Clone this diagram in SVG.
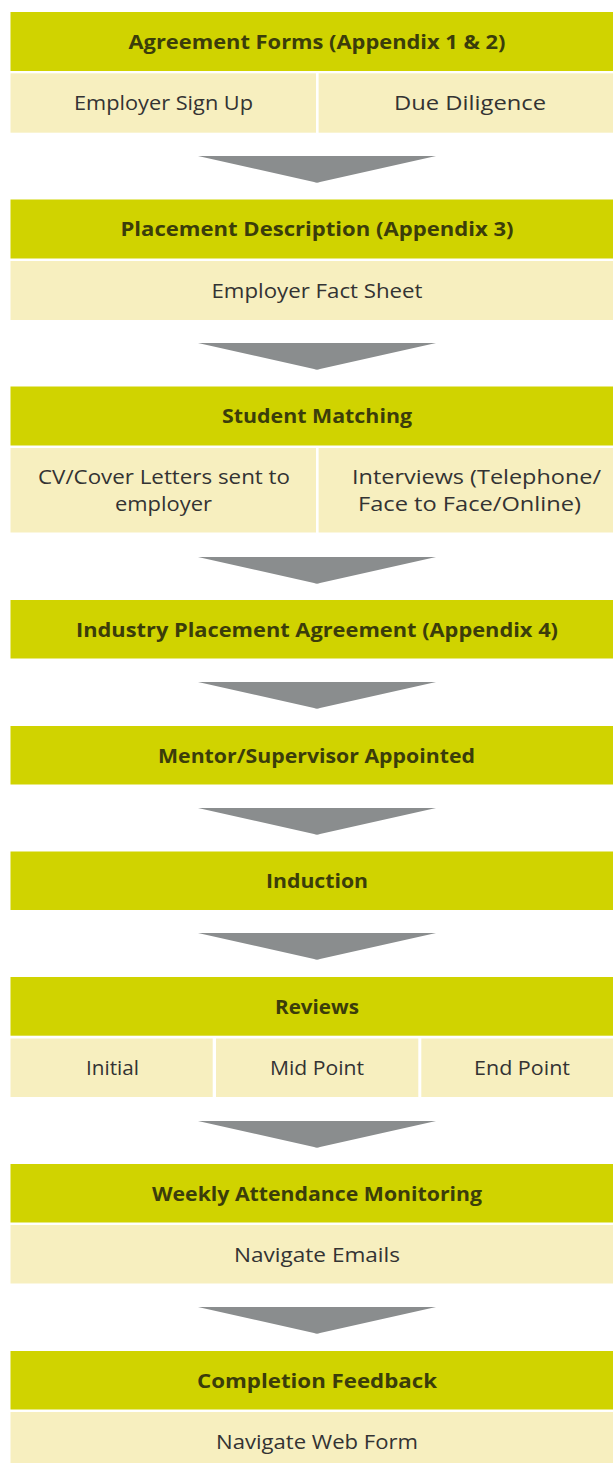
<svg xmlns="http://www.w3.org/2000/svg" width="613" height="1463" viewBox="0 0 613 1463">
<style>
.h{fill:#d0d300}
.s{fill:#f7efbf}
.a{fill:#8a8d8e}
.ht{font-family:"Open Sans","Liberation Sans",sans-serif;font-weight:700;font-size:19.5px;fill:#3b3d0a;text-anchor:middle}
.st{font-family:"Open Sans","Liberation Sans",sans-serif;font-weight:400;font-size:20px;fill:#333333;text-anchor:middle}
</style>
<rect width="613" height="1463" fill="#ffffff"/>
<g id="connectors">
<path class="a" d="M198,156 L436,156 L320,182 Q317,183.5 314,182 Z"/>
<path class="a" d="M198,343 L436,343 L320,369 Q317,370.5 314,369 Z"/>
<path class="a" d="M198,557 L436,557 L320,583 Q317,584.5 314,583 Z"/>
<path class="a" d="M198,682 L436,682 L320,708 Q317,709.5 314,708 Z"/>
<path class="a" d="M198,808 L436,808 L320,834 Q317,835.5 314,834 Z"/>
<path class="a" d="M198,933 L436,933 L320,959 Q317,960.5 314,959 Z"/>
<path class="a" d="M198,1121 L436,1121 L320,1147 Q317,1148.5 314,1147 Z"/>
<path class="a" d="M198,1307 L436,1307 L320,1333 Q317,1334.5 314,1333 Z"/>
</g>
<g id="n1">
<rect class="h" x="10.5" y="12" width="602.5" height="59"/>
<text class="ht" x="317" y="49" textLength="377" lengthAdjust="spacingAndGlyphs">Agreement Forms (Appendix 1 &amp; 2)</text>
<rect class="s" x="10.5" y="73.3" width="305.5" height="59.4"/>
<rect class="s" x="318.6" y="73.3" width="294.4" height="59.4"/>
<text class="st" x="163.5" y="110" textLength="179" lengthAdjust="spacingAndGlyphs">Employer Sign Up</text>
<text class="st" x="470" y="110" textLength="152" lengthAdjust="spacingAndGlyphs">Due Diligence</text>
</g>
<g id="n2">
<rect class="h" x="10.5" y="199.5" width="602.5" height="59"/>
<text class="ht" x="317" y="236" textLength="393" lengthAdjust="spacingAndGlyphs">Placement Description (Appendix 3)</text>
<rect class="s" x="10.5" y="261" width="602.5" height="59"/>
<text class="st" x="317" y="298" textLength="211" lengthAdjust="spacingAndGlyphs">Employer Fact Sheet</text>
</g>
<g id="n3">
<rect class="h" x="10.5" y="386.5" width="602.5" height="59"/>
<text class="ht" x="317" y="423" textLength="190" lengthAdjust="spacingAndGlyphs">Student Matching</text>
<rect class="s" x="10.5" y="448" width="305.5" height="84.5"/>
<rect class="s" x="318.6" y="448" width="294.4" height="84.5"/>
<text class="st" x="164" y="484" textLength="252" lengthAdjust="spacingAndGlyphs">CV/Cover Letters sent to</text>
<text class="st" x="163.5" y="511" textLength="97" lengthAdjust="spacingAndGlyphs">employer</text>
<text class="st" x="476.5" y="484" textLength="249" lengthAdjust="spacingAndGlyphs">Interviews (Telephone/</text>
<text class="st" x="469.5" y="511" textLength="223" lengthAdjust="spacingAndGlyphs">Face to Face/Online)</text>
</g>
<g id="n4">
<rect class="h" x="10.5" y="600" width="602.5" height="58.5"/>
<text class="ht" x="317" y="636.5" textLength="482" lengthAdjust="spacingAndGlyphs">Industry Placement Agreement (Appendix 4)</text>
</g>
<g id="n5">
<rect class="h" x="10.5" y="726" width="602.5" height="58.5"/>
<text class="ht" x="316.5" y="762.5" textLength="317" lengthAdjust="spacingAndGlyphs">Mentor/Supervisor Appointed</text>
</g>
<g id="n6">
<rect class="h" x="10.5" y="851.5" width="602.5" height="58.5"/>
<text class="ht" x="317" y="888" textLength="102" lengthAdjust="spacingAndGlyphs">Induction</text>
</g>
<g id="n7">
<rect class="h" x="10.5" y="977" width="602.5" height="58.7"/>
<text class="ht" x="317" y="1013.5" textLength="84" lengthAdjust="spacingAndGlyphs">Reviews</text>
<rect class="s" x="10.5" y="1038.5" width="202.2" height="58.5"/>
<rect class="s" x="216" y="1038.5" width="202.3" height="58.5"/>
<rect class="s" x="421.3" y="1038.5" width="191.7" height="58.5"/>
<text class="st" x="112.5" y="1075" textLength="53" lengthAdjust="spacingAndGlyphs">Initial</text>
<text class="st" x="317" y="1075" textLength="94" lengthAdjust="spacingAndGlyphs">Mid Point</text>
<text class="st" x="522" y="1075" textLength="96" lengthAdjust="spacingAndGlyphs">End Point</text>
</g>
<g id="n8">
<rect class="h" x="10.5" y="1164" width="602.5" height="58.5"/>
<text class="ht" x="317" y="1200.5" textLength="330" lengthAdjust="spacingAndGlyphs">Weekly Attendance Monitoring</text>
<rect class="s" x="10.5" y="1225" width="602.5" height="58.5"/>
<text class="st" x="317" y="1262" textLength="166" lengthAdjust="spacingAndGlyphs">Navigate Emails</text>
</g>
<g id="n9">
<rect class="h" x="10.5" y="1351" width="602.5" height="58.5"/>
<text class="ht" x="317" y="1387.5" textLength="240" lengthAdjust="spacingAndGlyphs">Completion Feedback</text>
<rect class="s" x="10.5" y="1412" width="602.5" height="51"/>
<text class="st" x="317" y="1449" textLength="202" lengthAdjust="spacingAndGlyphs">Navigate Web Form</text>
</g>
</svg>
